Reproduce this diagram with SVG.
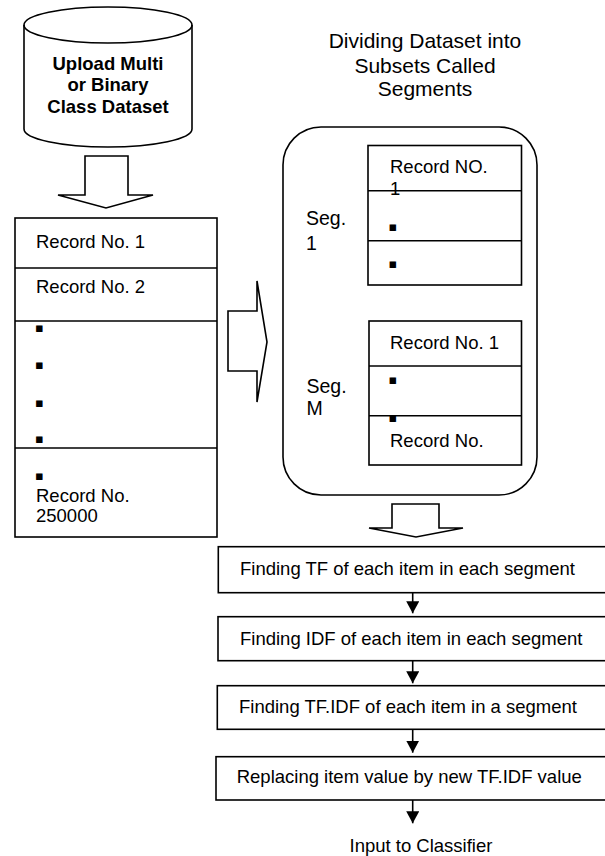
<svg xmlns="http://www.w3.org/2000/svg" width="605" height="856" viewBox="0 0 605 856">
<style>
  .shape { fill: #ffffff; stroke: #000000; stroke-width: 1.6; }
  .ln { fill: none; stroke: #000000; stroke-width: 1.6; }
  .t { font-family: "Liberation Sans", Arial, sans-serif; font-size: 18.5px; fill: #000000; }
  .b { font-weight: bold; }
  .h { font-size: 21px; }
  .s { font-size: 19.5px; }
  .dot { font-family: "DejaVu Sans", sans-serif; font-size: 13px; fill: #000000; }
  .arrow { fill: none; stroke: #000000; stroke-width: 1.6; marker-end: url(#ah); }
  .block { fill: #ffffff; stroke: #000000; stroke-width: 1.6; stroke-linejoin: miter; }
</style>
<defs>
  <marker id="ah" markerUnits="userSpaceOnUse" viewBox="0 0 12 13" refX="12" refY="6.5" markerWidth="12" markerHeight="13" orient="auto">
    <path d="M0,0 L12,6.5 L0,13 Z" fill="#000000"/>
  </marker>
</defs>
<rect width="605" height="856" fill="#ffffff"/>

<g id="upload-dataset">
  <path class="shape" d="M24,25 L24,129 A84,18 0 0 0 192,129 L192,25 A84,18 0 0 0 24,25 Z"/>
  <path class="ln" d="M24,25 A84,18 0 0 0 192,25"/>
  <text class="t b" x="108" y="70" text-anchor="middle">Upload Multi</text>
  <text class="t b" x="108" y="91" text-anchor="middle">or Binary</text>
  <text class="t b" x="108" y="112.5" text-anchor="middle">Class Dataset</text>
</g>

<g id="records">
  <rect class="shape" x="15" y="218" width="202" height="319"/>
  <line class="ln" x1="15" y1="268" x2="217" y2="268"/>
  <line class="ln" x1="15" y1="321" x2="217" y2="321"/>
  <line class="ln" x1="15" y1="448" x2="217" y2="448"/>
  <text class="t" x="36" y="248">Record No. 1</text>
  <text class="t" x="36" y="293">Record No. 2</text>
  <text class="dot" x="39.5" y="332" text-anchor="middle">▪</text>
  <text class="dot" x="39.5" y="368.5" text-anchor="middle">▪</text>
  <text class="dot" x="39.5" y="406.5" text-anchor="middle">▪</text>
  <text class="dot" x="39.5" y="442.5" text-anchor="middle">▪</text>
  <text class="dot" x="39.5" y="479.5" text-anchor="middle">▪</text>
  <text class="t" x="36" y="502">Record No.</text>
  <text class="t" x="36" y="522">250000</text>
</g>

<g id="heading">
  <text class="t h" x="425" y="48" text-anchor="middle">Dividing Dataset into</text>
  <text class="t h" x="425" y="72.5" text-anchor="middle">Subsets Called</text>
  <text class="t h" x="425" y="96" text-anchor="middle">Segments</text>
</g>

<g id="segments">
  <rect class="shape" x="283" y="127" width="254" height="368" rx="38" ry="38"/>
  <g id="segment-1">
    <text class="t s" x="306" y="225">Seg.</text>
    <text class="t s" x="306" y="250">1</text>
    <rect class="shape" x="368" y="145.5" width="153.5" height="139.5"/>
    <line class="ln" x1="368" y1="190.7" x2="521.5" y2="190.7"/>
    <line class="ln" x1="368" y1="240.7" x2="521.5" y2="240.7"/>
    <text class="t" x="390" y="173.3">Record NO.</text>
    <text class="t" x="390" y="195">1</text>
    <text class="dot" x="393" y="231" text-anchor="middle">▪</text>
    <text class="dot" x="393" y="267.5" text-anchor="middle">▪</text>
  </g>
  <g id="segment-m">
    <text class="t s" x="306.5" y="393">Seg.</text>
    <text class="t s" x="306.5" y="415">M</text>
    <rect class="shape" x="369" y="321" width="152.5" height="144"/>
    <line class="ln" x1="369" y1="366" x2="521.5" y2="366"/>
    <line class="ln" x1="369" y1="415.7" x2="521.5" y2="415.7"/>
    <text class="t" x="390" y="349">Record No. 1</text>
    <text class="dot" x="393" y="384" text-anchor="middle">▪</text>
    <text class="dot" x="393" y="422" text-anchor="middle">▪</text>
    <text class="t" x="390" y="446.7">Record No.</text>
  </g>
</g>

<g id="step-tf">
  <rect class="shape" x="218.3" y="546.7" width="400" height="46"/>
  <text class="t" x="240" y="575">Finding TF of each item in each segment</text>
</g>
<g id="step-idf">
  <rect class="shape" x="218" y="616.7" width="400" height="44"/>
  <text class="t" x="240" y="644.5">Finding IDF of each item in each segment</text>
</g>
<g id="step-tfidf">
  <rect class="shape" x="217.3" y="685.7" width="400" height="43.6"/>
  <text class="t" x="239" y="713.3">Finding TF.IDF of each item in a segment</text>
</g>
<g id="step-replace">
  <rect class="shape" x="216" y="756.7" width="400" height="43.3"/>
  <text class="t" x="236.7" y="783.3">Replacing item value by new TF.IDF value</text>
</g>
<g id="output">
  <text class="t" x="349.5" y="851.7">Input to Classifier</text>
</g>

<g id="connectors">
  <polygon class="block" points="85,156 128,156 128,195 153,195 106,208 58,195 85,195"/>
  <polygon class="block" points="228,311 257,311 257,281 267,342 257,402 257,371 228,371"/>
  <polygon class="block" points="392,504 439,504 439,528 463,528 416,537 369,528 392,528"/>
  <line class="arrow" x1="412.7" y1="592.7" x2="412.7" y2="613.3"/>
  <line class="arrow" x1="412.7" y1="660.7" x2="412.7" y2="683.3"/>
  <line class="arrow" x1="412.7" y1="729.3" x2="412.7" y2="752.7"/>
  <line class="arrow" x1="412.7" y1="800" x2="412.7" y2="823.3"/>
</g>
</svg>
